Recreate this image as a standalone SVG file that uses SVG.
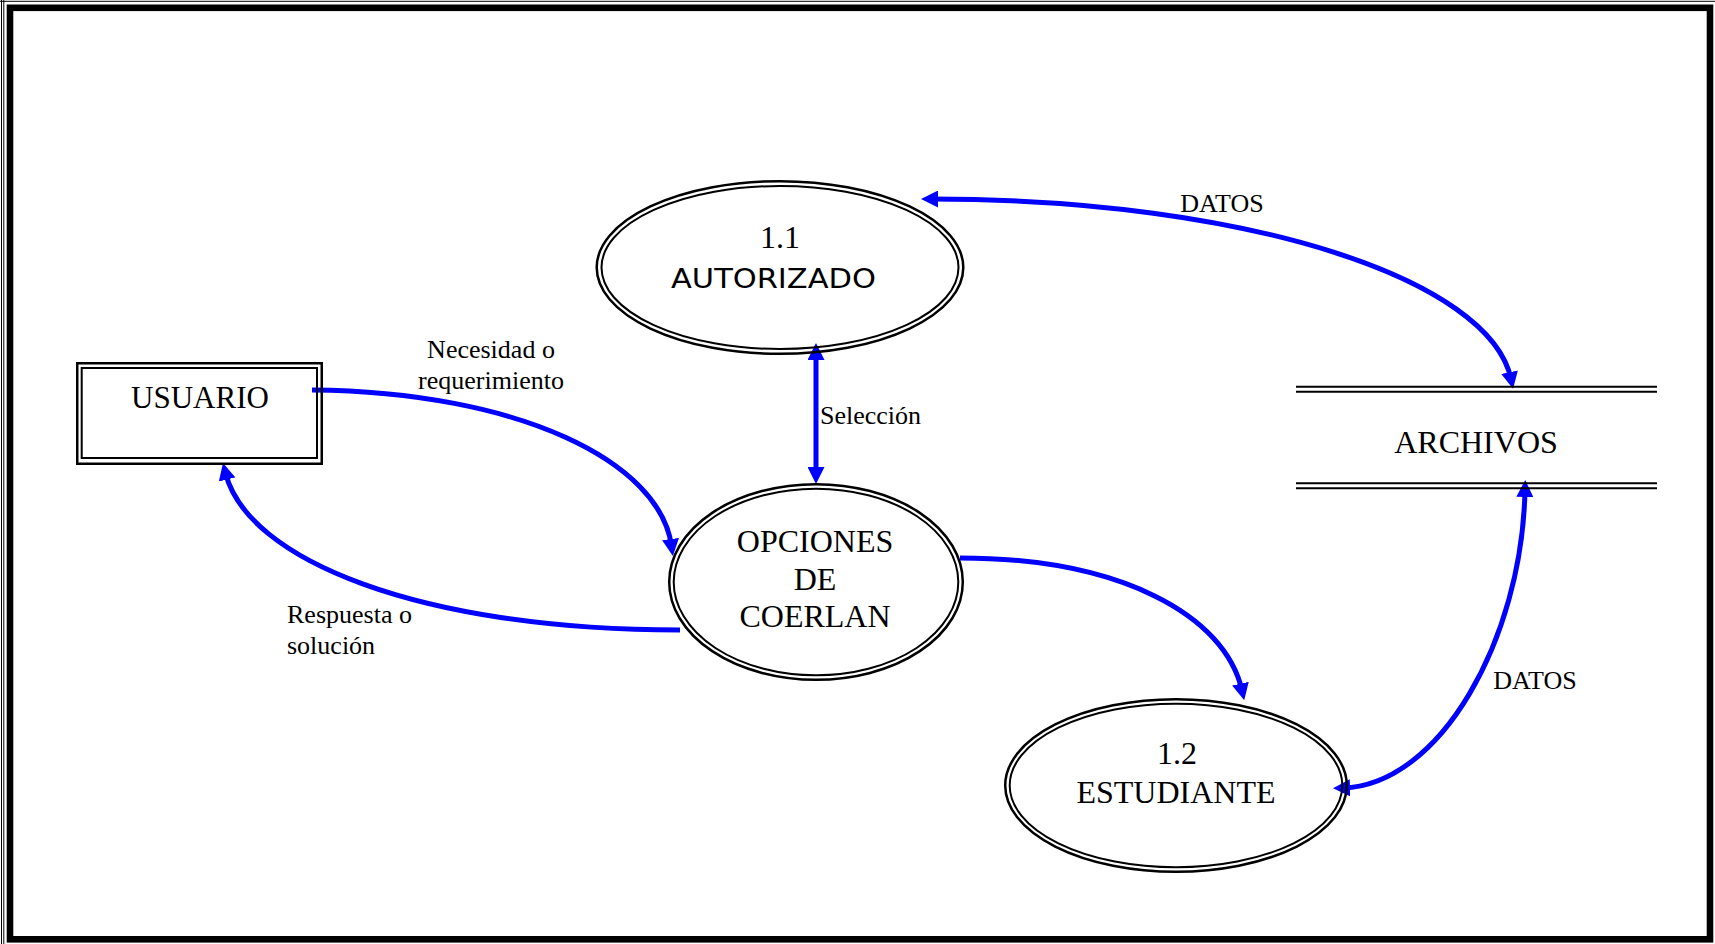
<svg xmlns="http://www.w3.org/2000/svg" width="1715" height="944" viewBox="0 0 1715 944">
<style>
.t{font-family:"Liberation Serif","Times New Roman",serif;fill:#000}
.n{font-size:32px;text-anchor:middle}
.l{font-size:26px}
.c{font-family:"DejaVu Sans",sans-serif;font-size:27px;fill:#000;text-anchor:middle}
.o{fill:none;stroke:#000;stroke-width:2.5}
.i{fill:none;stroke:#000;stroke-width:2}
.f{fill:none;stroke:#0000FF;stroke-width:5}
</style>
<defs>
<marker id="ah" markerUnits="userSpaceOnUse" markerWidth="17" markerHeight="17" refX="7" refY="8.5" orient="auto-start-reverse">
<path d="M0,0 L17,8.5 L0,17 z" fill="#0000FF"/>
</marker>
</defs>
<rect width="1715" height="944" fill="#fff"/>
<g id="frame">
<line x1="1.5" y1="0" x2="1.5" y2="944" stroke="#000" stroke-width="1"/>
<line x1="3.8" y1="0" x2="3.8" y2="944" stroke="#000" stroke-width="1"/>
<line x1="0" y1="1.3" x2="1715" y2="1.3" stroke="#000" stroke-width="1"/>
<rect x="10" y="7.8" width="1700" height="931.5" fill="none" stroke="#000" stroke-width="6.6"/>
</g>
<g id="connectors">
<path class="f" d="M312,390 C520,392 660,462 671.5,546" marker-end="url(#ah)"/>
<path class="f" d="M680,630 C420,630 247,560 225.4,472.7" marker-end="url(#ah)"/>
<path class="f" d="M816,353 L816,474" marker-start="url(#ah)" marker-end="url(#ah)"/>
<path class="f" d="M960,558 C1120,558 1225,615 1242,690.5" marker-end="url(#ah)"/>
<path class="f" d="M931,199 C1250,199 1490,280 1511,379" marker-start="url(#ah)" marker-end="url(#ah)"/>
<path class="f" d="M1343,788 C1440,785 1522,640 1525,490" marker-start="url(#ah)" marker-end="url(#ah)"/>
</g>
<g id="usuario">
<rect class="o" x="77.25" y="363.25" width="244.5" height="100.5"/>
<rect class="i" x="81.7" y="368" width="235.3" height="90"/>
<text class="t n" x="200" y="408" style="font-size:31px">USUARIO</text>
</g>
<g id="autorizado">
<ellipse class="o" cx="780" cy="267.5" rx="183.3" ry="86.3"/>
<ellipse class="i" cx="780" cy="267.5" rx="178.5" ry="81.5"/>
<text class="t n" x="780" y="248">1.1</text>
<text class="c" x="773.5" y="288" textLength="205" lengthAdjust="spacingAndGlyphs">AUTORIZADO</text>
</g>
<g id="opciones">
<ellipse class="o" cx="816" cy="582" rx="146.8" ry="97.8"/>
<ellipse class="i" cx="816" cy="582" rx="142.3" ry="93.3"/>
<text class="t n" x="815" y="552">OPCIONES</text>
<text class="t n" x="815" y="590">DE</text>
<text class="t n" x="815" y="627">COERLAN</text>
</g>
<g id="estudiante">
<ellipse class="o" cx="1176" cy="785.5" rx="170.8" ry="86.3"/>
<ellipse class="i" cx="1176" cy="785.5" rx="166.3" ry="81.8"/>
<text class="t n" x="1177" y="764">1.2</text>
<text class="t n" x="1176" y="803">ESTUDIANTE</text>
</g>
<g id="archivos">
<line class="i" x1="1296" y1="386.7" x2="1657" y2="386.7"/>
<line class="i" x1="1296" y1="391.7" x2="1657" y2="391.7"/>
<line class="i" x1="1296" y1="483.3" x2="1657" y2="483.3"/>
<line class="i" x1="1296" y1="488.3" x2="1657" y2="488.3"/>
<text class="t n" x="1476" y="453">ARCHIVOS</text>
</g>
<g id="labels">
<text class="t l" x="491" y="358" text-anchor="middle">Necesidad o</text>
<text class="t l" x="491" y="389" text-anchor="middle">requerimiento</text>
<text class="t l" x="820" y="424">Selección</text>
<text class="t l" x="287" y="623">Respuesta o</text>
<text class="t l" x="287" y="654">solución</text>
<text class="t l" x="1222" y="212" text-anchor="middle">DATOS</text>
<text class="t l" x="1535" y="689" text-anchor="middle">DATOS</text>
</g>
</svg>
